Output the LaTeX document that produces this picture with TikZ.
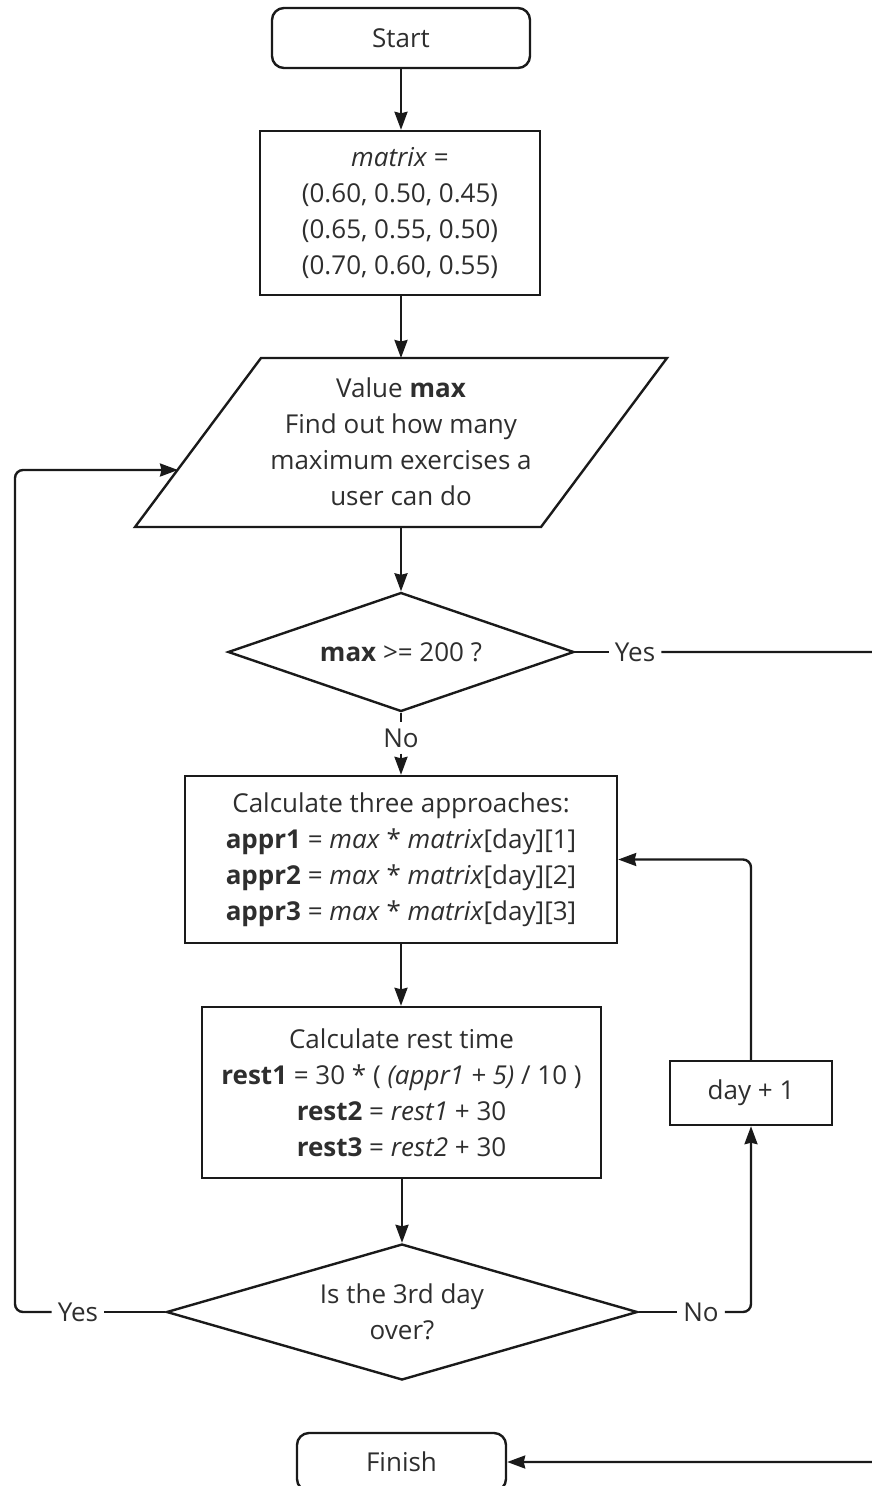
\documentclass[tikz,border=0pt]{standalone}
\usepackage{fontspec}
\setmainfont{Open Sans}
\usetikzlibrary{arrows.meta,shapes.geometric}
\definecolor{linec}{HTML}{1A1A1A}
\definecolor{textc}{HTML}{2E2E2E}

\begin{document}
\begin{tikzpicture}[x=1pt,y=-1pt,
  every node/.style={font=\fontsize{26}{36}\selectfont, text=textc},
  outline/.style={draw=linec, line width=2.4pt},
  flow/.style={draw=linec, line width=2.4pt, -{Stealth[length=18pt,width=13pt,inset=1.5pt]}},
  plain/.style={draw=linec, line width=2.4pt},
  terminal/.style={outline, rounded corners=12pt, inner sep=0pt, minimum height=58pt},
  procbox/.style={outline, align=center, inner sep=0pt},
  decision/.style={outline, diamond, align=center, inner sep=0pt},
  lbl/.style={inner xsep=6pt, inner ysep=6pt},
  softturn/.style={rounded corners=8pt}]

\useasboundingbox (0,0) rectangle (871,1486);

% terminals and process boxes
\node[terminal, minimum width=258pt, minimum height=60pt] (start) at (401,38) {Start};
\node[procbox, minimum width=280pt, minimum height=164pt] (matrix) at (400,213)
  {\textit{matrix} =\\(0.60, 0.50, 0.45)\\(0.65, 0.55, 0.50)\\(0.70, 0.60, 0.55)};

% input parallelogram
\coordinate (pTL) at (261,358);
\coordinate (pTR) at (667,358);
\coordinate (pBR) at (541,527);
\coordinate (pBL) at (135,527);
\draw[outline] (pTL) -- (pTR) -- (pBR) -- (pBL) -- cycle;
\node[align=center, inner sep=0pt] (input) at (401,442)
  {Value \textbf{max}\\Find out how many\\maximum exercises a\\user can do};
\coordinate (inTop) at (401,358);
\coordinate (inBot) at (401,527);
\coordinate (inLeft) at (178,470);

\node[decision, minimum width=346pt, minimum height=119pt, aspect=2.9] (dec1) at (401,652)
  {\textbf{max} >= 200 ?};

\node[procbox, minimum width=432pt, minimum height=167pt] (calc) at (401,859.5)
  {Calculate three approaches:\\
   \textbf{appr1} = \textit{max} * \textit{matrix}[day][1]\\
   \textbf{appr2} = \textit{max} * \textit{matrix}[day][2]\\
   \textbf{appr3} = \textit{max} * \textit{matrix}[day][3]};

\node[procbox, minimum width=399pt, minimum height=171pt] (rest) at (401.5,1092.5)
  {Calculate rest time\\
   \textbf{rest1} = 30 * ( \textit{(appr1 + 5)} / 10 )\\
   \textbf{rest2} = \textit{rest1} + 30\\
   \textbf{rest3} = \textit{rest2} + 30};

\node[procbox, minimum width=162pt, minimum height=64pt] (day) at (751,1093) {day + 1};

\node[decision, minimum width=471pt, minimum height=136pt, aspect=3.46] (dec2) at (402,1312)
  {Is the 3rd day\\over?};

\node[terminal, minimum width=209pt] (finish) at (401.5,1462) {Finish};

% branch labels
\node[lbl] (yes1) at (635,652) {Yes};
\node[lbl] (no1) at (401,738) {No};
\node[lbl] (yes2) at (78,1312) {Yes};
\node[lbl] (no2) at (701,1312) {No};

% helper points for the outer loops
\coordinate (lx) at (15,470);
\coordinate (rx) at (885,652);

% main column
\draw[flow] (start.south) -- (start.south |- matrix.north);
\draw[flow] (matrix.south -| inTop) -- (inTop);
\draw[flow] (inBot) -- (dec1.north);
\draw[plain] (dec1.south) -- (no1.north);
\draw[flow] (no1.south) -- (calc.north);
\draw[flow] (calc.south) -- (calc.south |- rest.north);
\draw[flow] (rest.south -| dec2.north) -- (dec2.north);

% yes: leave to finish
\draw[plain] (dec1.east) -- (yes1.west);
\draw[flow, softturn] (yes1.east) -- (rx) -- (rx |- finish.east) -- (finish.east);

% no: next day
\draw[plain] (dec2.east) -- (no2.west);
\draw[flow, softturn] (no2.east) -- (no2.east -| day.south) -- (day.south);
\draw[flow, softturn] (day.north) -- (day.north |- calc.east) -- (calc.east);

% yes: back to the input
\draw[plain] (dec2.west) -- (yes2.east);
\draw[flow, softturn] (yes2.west) -- (yes2.west -| lx) -- (lx) -- (inLeft);
\end{tikzpicture}
\end{document}
